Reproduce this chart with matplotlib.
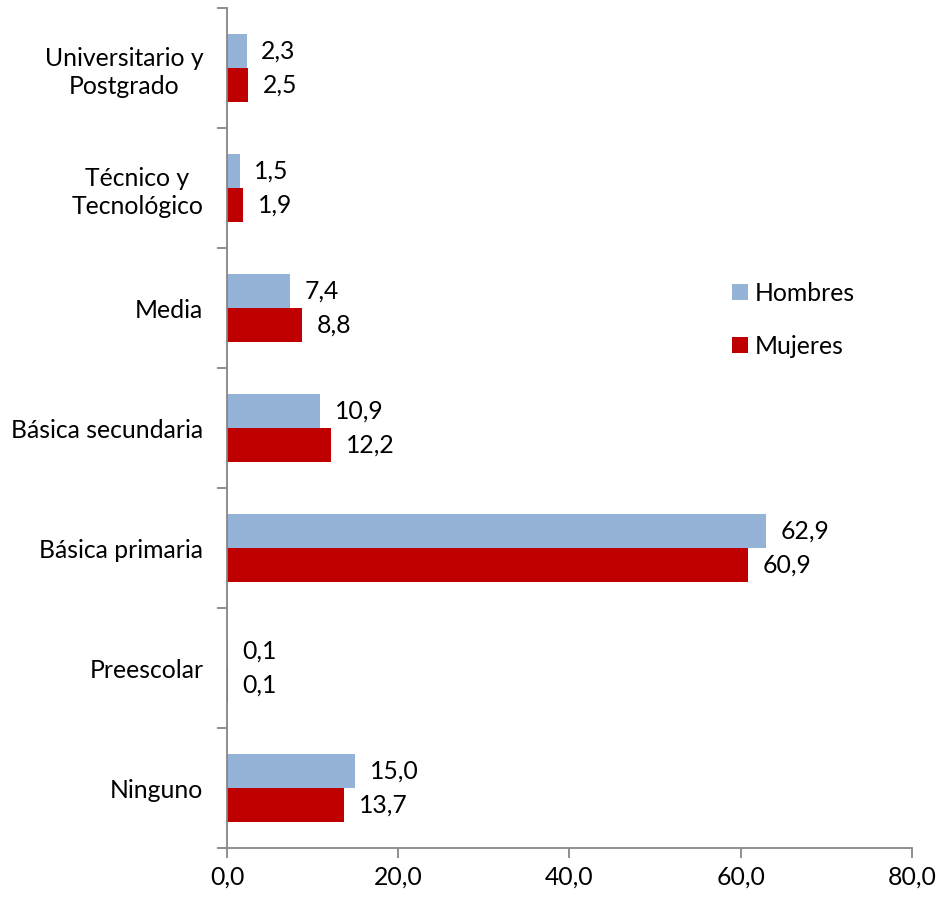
import matplotlib
matplotlib.use("Agg")
import matplotlib.pyplot as plt
import numpy as np

categories = ["Ninguno", "Preescolar", "Básica primaria", "Básica secundaria",
              "Media", "Técnico y\nTecnológico", "Universitario y\nPostgrado"]
hombres = [15.0, 0.1, 62.9, 10.9, 7.4, 1.5, 2.3]
mujeres = [13.7, 0.1, 60.9, 12.2, 8.8, 1.9, 2.5]
xticks = [0, 20, 40, 60, 80]
xticklabels = ["0,0", "20,0", "40,0", "60,0", "80,0"]

plt.rcParams['font.family'] = ['Lato', 'DejaVu Sans']
FS = 17.8

fig = plt.figure(figsize=(9.37, 8.98), dpi=100)
ax = fig.add_axes([227/937, 1-848/898, (912-227)/937, (848-8)/898])

y = np.arange(len(categories))
h = 0.283
c_h = "#95B3D7"
c_m = "#C00000"
bh = ax.barh(y + h/2, hombres, height=h, color=c_h, label="Hombres")
bm = ax.barh(y - h/2, mujeres, height=h, color=c_m, label="Mujeres")

def fmt(v):
    return f"{v:.1f}".replace(".", ",")

for yi, v in zip(y, hombres):
    ax.annotate(fmt(v), (v, yi + h/2), xytext=(10.5, 0), textcoords="offset points",
                ha="left", va="center", fontsize=FS)
for yi, v in zip(y, mujeres):
    ax.annotate(fmt(v), (v, yi - h/2), xytext=(10.5, 0), textcoords="offset points",
                ha="left", va="center", fontsize=FS)

ax.set_xlim(0, 80)
ax.set_ylim(-0.5, len(categories) - 0.5)
ax.set_xticks(xticks)
ax.set_xticklabels(xticklabels, fontsize=FS)
ax.set_yticks(np.arange(-0.5, len(categories), 1.0))
ax.set_yticklabels([])
ax.set_yticks(y, minor=True)
ax.set_yticklabels(categories, minor=True, fontsize=FS)
for lbl in ax.get_yticklabels(minor=True):
    lbl.set_multialignment("center")
    lbl.set_linespacing(1.25)
ax.tick_params(axis="y", which="minor", length=0, pad=17)
ax.tick_params(axis="y", which="major", length=7, color="#868686", width=1.3)
ax.tick_params(axis="x", which="major", length=7, color="#868686", width=1.3, pad=6)

for s in ["top", "right"]:
    ax.spines[s].set_visible(False)
for s in ["left", "bottom"]:
    ax.spines[s].set_color("#868686")
    ax.spines[s].set_linewidth(1.3)

leg = fig.legend(handles=[bh, bm], labels=["Hombres", "Mujeres"],
                 loc="center left", bbox_to_anchor=(720/937, 1-320/898),
                 frameon=False, fontsize=FS, handlelength=0.62, handleheight=0.62,
                 handletextpad=0.3, labelspacing=1.2, borderpad=0)

fig.savefig("out.png", dpi=100)
